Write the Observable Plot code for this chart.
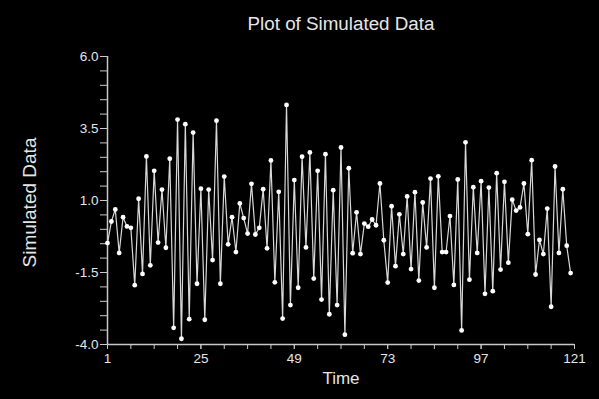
<!DOCTYPE html>
<html>
<head>
<meta charset="utf-8">
<script src="https://cdn.jsdelivr.net/npm/d3@7"></script>
<script src="https://cdn.jsdelivr.net/npm/@observablehq/plot@0.6"></script>
<style>
  html, body { margin: 0; padding: 0; background: #000; }
</style>
</head>
<body>
<div id="chart"></div>
<script>
const values = [
  -0.48, 0.27, 0.69, -0.82, 0.42, 0.10, 0.05, -1.94, 1.06, -1.55,
  2.53, -1.25, 2.03, -0.46, 1.38, -0.64, 2.45, -3.42, 3.81, -3.80,
  3.65, -3.12, 3.36, -1.89, 1.41, -3.14, 1.38, -1.07, 3.77, -1.89,
  1.83, -0.52, 0.42, -0.79, 0.90, 0.39, -0.15, 1.58, -0.18, 0.05,
  1.39, -0.66, 2.39, -1.84, 1.30, -3.10, 4.32, -2.63, 1.71, -2.03,
  2.52, -0.63, 2.67, -1.71, 2.03, -2.44, 2.61, -2.95, 1.36, -2.63,
  2.84, -3.66, 2.12, -0.83, 0.59, -0.86, 0.20, 0.09, 0.34, 0.14,
  1.59, -0.38, -1.85, 0.80, -1.28, 0.52, -0.86, 1.14, -1.38, 1.29,
  -1.78, 0.93, -0.63, 1.76, -2.03, 1.84, -0.79, -0.79, 0.46, -1.93,
  1.73, -3.51, 3.02, -1.75, 1.46, -0.82, 1.67, -2.24, 1.45, -2.15,
  1.95, -1.40, 1.65, -1.16, 1.03, 0.65, 0.76, 1.59, -0.17, 2.40,
  -1.57, -0.37, -0.86, 0.72, -2.69, 2.18, -0.82, 1.39, -0.57, -1.52
];
const times = values.map((_, i) => i + 1);
const xTickLabels = [1, 25, 49, 73, 97, 121];
const xMinorTicks = [1, 7, 13, 19, 25, 31, 37, 43, 49, 55, 61, 67, 73, 79, 85, 91, 97, 103, 109, 115, 121];
const yTickLabels = [-4.0, -1.5, 1.0, 3.5, 6.0];
const yMinorTicks = [-4, -3.5, -3, -2.5, -2, -1.5, -1, -0.5, 0, 0.5, 1, 1.5, 2, 2.5, 3, 3.5, 4, 4.5, 5, 5.5, 6];
const titleText = "Plot of Simulated Data";
const xTitle = "Time";
const yTitle = "Simulated Data";

const data = times.map((t, i) => ({t, v: values[i]}));
const txt = "#e6e6e6";
const axisCol = "#c8c8c8";

const chart = Plot.plot({
  width: 599,
  height: 399,
  marginLeft: 107,
  marginRight: 25,
  marginTop: 56,
  marginBottom: 55,
  style: {background: "#000", color: txt, fontFamily: "'Liberation Sans', Arial, sans-serif", fontSize: "13.5px"},
  x: {domain: [1, 121]},
  y: {domain: [-4, 6]},
  marks: [
    Plot.axisY({ticks: yMinorTicks, tickSize: 7, stroke: axisCol, tickFormat: () => "", label: null}),
    Plot.axisY({ticks: yTickLabels, tickSize: 7, tickPadding: 2, stroke: axisCol, fill: txt, fontSize: 13.5, tickFormat: d => d.toFixed(1), label: null}),
    Plot.axisX({ticks: xMinorTicks, tickSize: 5, stroke: axisCol, tickFormat: () => "", label: null}),
    Plot.axisX({ticks: xTickLabels, tickSize: 5, tickPadding: 4, stroke: axisCol, fill: txt, fontSize: 13.5, tickFormat: d => String(d), label: null}),
    Plot.ruleX([1], {stroke: axisCol, strokeWidth: 1.5}),
    Plot.ruleY([-4], {stroke: axisCol, strokeWidth: 1.5}),
    Plot.line(data, {x: "t", y: "v", stroke: "#d8d8d8", strokeWidth: 1.2}),
    Plot.dot(data, {x: "t", y: "v", r: 2.4, fill: "#fff", stroke: "none"}),
    Plot.text([titleText], {frameAnchor: "top", dy: -40, fontSize: 18.8, fill: txt, textAnchor: "middle"}),
    Plot.text([xTitle], {frameAnchor: "bottom", dy: 39, fontSize: 17, fill: txt, textAnchor: "middle"}),
    Plot.text([yTitle], {frameAnchor: "left", dx: -78, dy: 2, rotate: -90, fontSize: 19, fill: txt, textAnchor: "middle"})
  ]
});
document.getElementById("chart").appendChild(chart);
</script>
</body>
</html>
